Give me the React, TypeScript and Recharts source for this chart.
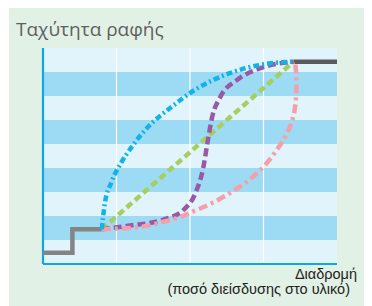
import React from "react";
import {
  ComposedChart,
  Line,
  XAxis,
  YAxis,
  ReferenceArea,
  ReferenceLine,
} from "recharts";

type Pt = { x: number; y: number };

// base step before the curves start, and the flat end after them
const stepLow: Pt[] = [
  { x: 0, y: 0.47 },
  { x: 0.4, y: 0.47 },
  { x: 0.4, y: 1.45 },
  { x: 0.8, y: 1.45 },
];
const stepHigh: Pt[] = [
  { x: 3.41, y: 8.43 },
  { x: 4, y: 8.43 },
];

const blueCurve: Pt[] = [
  { x: 0.8, y: 1.45 },
  { x: 0.84, y: 2.5 },
  { x: 0.93, y: 3.4 },
  { x: 1.06, y: 4.2 },
  { x: 1.2, y: 4.85 },
  { x: 1.41, y: 5.65 },
  { x: 1.73, y: 6.5 },
  { x: 2.09, y: 7.3 },
  { x: 2.54, y: 7.95 },
  { x: 3.0, y: 8.32 },
  { x: 3.41, y: 8.43 },
];

const purpleCurve: Pt[] = [
  { x: 0.8, y: 1.45 },
  { x: 1.18, y: 1.6 },
  { x: 1.64, y: 1.85 },
  { x: 1.91, y: 2.25 },
  { x: 2.08, y: 3.0 },
  { x: 2.18, y: 4.0 },
  { x: 2.24, y: 5.1 },
  { x: 2.3, y: 6.1 },
  { x: 2.41, y: 6.95 },
  { x: 2.64, y: 7.67 },
  { x: 2.95, y: 8.15 },
  { x: 3.41, y: 8.43 },
];

const greenLine: Pt[] = [
  { x: 0.8, y: 1.45 },
  { x: 3.41, y: 8.43 },
];

const pinkCurve: Pt[] = [
  { x: 0.8, y: 1.45 },
  { x: 1.18, y: 1.5 },
  { x: 1.64, y: 1.76 },
  { x: 2.09, y: 2.25 },
  { x: 2.54, y: 2.95 },
  { x: 2.91, y: 3.78 },
  { x: 3.18, y: 4.75 },
  { x: 3.36, y: 5.72 },
  { x: 3.43, y: 6.55 },
  { x: 3.45, y: 7.5 },
  { x: 3.43, y: 8.43 },
];

const darkBands = [1, 3, 5, 7];
const gridX = [1, 2, 3];

const AXIS_BLUE = "#0aa8e6";

const labelFont: React.CSSProperties = {
  position: "absolute",
  fontFamily: "'Liberation Sans', Arial, sans-serif",
  fontSize: 14.5,
  lineHeight: "15px",
  color: "#222",
  whiteSpace: "nowrap",
};

export default function App() {
  return (
    <div
      style={{
        position: "relative",
        marginLeft: 1,
        width: 363,
        height: 298,
        background: "#e2f1e5",
      }}
    >
      <div
        style={{
          position: "absolute",
          left: 7,
          top: 12,
          fontFamily: "'Open Sans', sans-serif",
          fontSize: 19,
          lineHeight: 1,
          color: "#5f5f5f",
        }}
      >
        Ταχύτητα ραφής
      </div>
      <ComposedChart
        width={363}
        height={298}
        margin={{ top: 40, right: 35, left: 34, bottom: 42 }}
        style={{ position: "absolute", left: 0, top: 0 }}
      >
        <XAxis type="number" dataKey="x" domain={[0, 4]} hide />
        <YAxis type="number" domain={[0, 9]} hide />
        <ReferenceArea x1={0} x2={4} y1={0} y2={9} fill="#e1f3fb" fillOpacity={1} stroke="none" />
        {darkBands.map((b) => (
          <ReferenceArea
            key={b}
            x1={0}
            x2={4}
            y1={b}
            y2={b + 1}
            fill="#9ddbf5"
            fillOpacity={1}
            stroke="none"
          />
        ))}
        {gridX.map((g) => (
          <ReferenceLine key={g} x={g} stroke="#ffffff" strokeWidth={1.2} />
        ))}
        <ReferenceLine x={0} stroke={AXIS_BLUE} strokeWidth={2.2} />
        <ReferenceLine y={0} stroke={AXIS_BLUE} strokeWidth={2.2} />
        <Line
          data={stepLow}
          dataKey="y"
          type="linear"
          stroke="#848484"
          strokeWidth={4.5}
          dot={false}
          isAnimationActive={false}
        />
        <Line
          data={stepHigh}
          dataKey="y"
          type="linear"
          stroke="#5c5c5c"
          strokeWidth={4.5}
          dot={false}
          isAnimationActive={false}
        />
        <Line
          data={greenLine}
          dataKey="y"
          type="linear"
          stroke="#a5cf5e"
          strokeWidth={4.5}
          strokeDasharray="7 4"
          dot={false}
          isAnimationActive={false}
        />
        <Line
          data={purpleCurve}
          dataKey="y"
          type="monotone"
          stroke="#9a59a8"
          strokeWidth={4.5}
          strokeDasharray="8 4"
          dot={false}
          isAnimationActive={false}
        />
        <Line
          data={pinkCurve}
          dataKey="y"
          type="monotoneY"
          stroke="#f5a0a9"
          strokeWidth={4.5}
          strokeDasharray="9 4 3 4"
          dot={false}
          isAnimationActive={false}
        />
        <Line
          data={blueCurve}
          dataKey="y"
          type="monotone"
          stroke="#12b3ea"
          strokeWidth={4.5}
          strokeDasharray="6 3 2 3"
          dot={false}
          isAnimationActive={false}
        />
      </ComposedChart>
      <div style={{ ...labelFont, right: 15, top: 259 }}>Διαδρομή</div>
      <div style={{ ...labelFont, right: 22, top: 274 }}>
        (ποσό διείσδυσης στο υλικό)
      </div>
    </div>
  );
}
